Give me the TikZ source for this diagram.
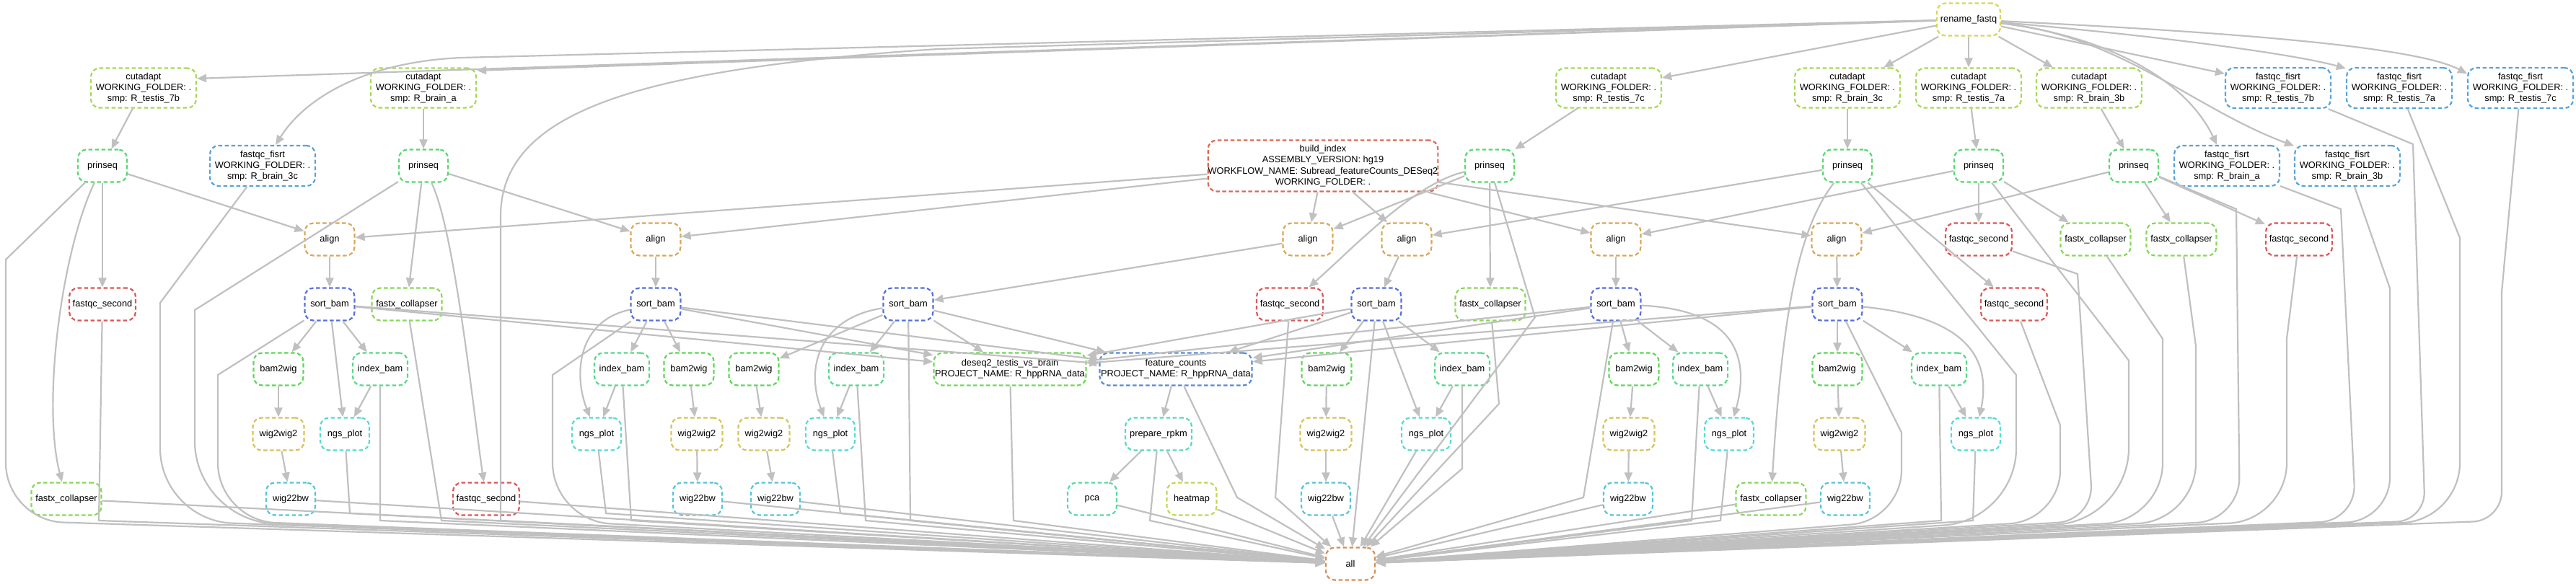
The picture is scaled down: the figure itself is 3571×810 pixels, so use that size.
\documentclass[tikz,border=0pt]{standalone}
\usepackage{fontspec}
\setmainfont{Liberation Sans}
\usetikzlibrary{arrows.meta}
\definecolor{cRen}{HTML}{D9D657}
\definecolor{cCut}{HTML}{A6D957}
\definecolor{cFq}{HTML}{57A3D9}
\definecolor{cPs}{HTML}{57D970}
\definecolor{cBi}{HTML}{D96A57}
\definecolor{cAl}{HTML}{D9A857}
\definecolor{cFs}{HTML}{D95757}
\definecolor{cFx}{HTML}{86D957}
\definecolor{cSo}{HTML}{5770D9}
\definecolor{cBw}{HTML}{5CD957}
\definecolor{cIb}{HTML}{57D98A}
\definecolor{cWw}{HTML}{D9C257}
\definecolor{cNp}{HTML}{57D9D9}
\definecolor{cWb}{HTML}{57C4D9}
\definecolor{cDe}{HTML}{6FD957}
\definecolor{cFc}{HTML}{578AD9}
\definecolor{cPr}{HTML}{57D9BD}
\definecolor{cPca}{HTML}{57D9A3}
\definecolor{cHm}{HTML}{BDD957}
\definecolor{cAll}{HTML}{D98F57}
\definecolor{cEdge}{HTML}{C0C0C0}
\newcommand\edg[2]{\draw[edge] (#1) -- (#2);}
\newcommand\allA[3]{\draw[edge] (#1) -- (#2) [rounded corners=#3pt] -- (all);}
\newcommand\allB[5]{\draw[edge] (#1) -- (#2) [rounded corners=#3pt] -- (#4) [rounded corners=#5pt] -- (all);}
\begin{document}
\begin{tikzpicture}[x=1pt,y=-1pt,
  nd/.style={draw=#1, line width=2.2pt, dash pattern=on 5.5pt off 3.5pt, rounded corners=12pt, minimum height=45pt, inner sep=0pt, align=center, font=\fontsize{12.8}{15.3}\selectfont},
  renS/.style={nd=cRen, minimum width=88pt},
  cutS/.style={nd=cCut, minimum width=146pt, minimum height=55pt},
  fqS/.style={nd=cFq, minimum width=146pt, minimum height=56pt},
  psS/.style={nd=cPs, minimum width=68pt},
  biS/.style={nd=cBi, minimum width=309pt, minimum height=71pt},
  alS/.style={nd=cAl, minimum width=69pt},
  fsS/.style={nd=cFs, minimum width=92pt},
  fxS/.style={nd=cFx, minimum width=97pt},
  soS/.style={nd=cSo, minimum width=69pt},
  bwS/.style={nd=cBw, minimum width=69pt},
  ibS/.style={nd=cIb, minimum width=76pt},
  wwS/.style={nd=cWw, minimum width=71pt},
  npS/.style={nd=cNp, minimum width=68pt},
  wbS/.style={nd=cWb, minimum width=68pt},
  deS/.style={nd=cDe, minimum width=211pt},
  fcS/.style={nd=cFc, minimum width=211pt},
  prS/.style={nd=cPr, minimum width=92pt},
  pcaS/.style={nd=cPca, minimum width=68pt},
  hmS/.style={nd=cHm, minimum width=69pt},
  allS/.style={nd=cAll, minimum width=68pt},
  edge/.style={draw=cEdge, line width=2.2pt, sharp corners, -{Triangle[length=13pt,width=11pt]}}
]
\useasboundingbox (0,0) rectangle (3571,810);
% ---------- nodes ----------
\node[renS] (ren) at (2729,27) {rename\_fastq};
\node[cutS] (cu7b) at (199,122) {cutadapt\\WORKING\_FOLDER: .\\smp: R\_testis\_7b};
\node[cutS] (cuba) at (587,122) {cutadapt\\WORKING\_FOLDER: .\\smp: R\_brain\_a};
\node[cutS] (cu7c) at (2230,122) {cutadapt\\WORKING\_FOLDER: .\\smp: R\_testis\_7c};
\node[cutS] (cu3c) at (2561,122) {cutadapt\\WORKING\_FOLDER: .\\smp: R\_brain\_3c};
\node[cutS] (cu7a) at (2729,122) {cutadapt\\WORKING\_FOLDER: .\\smp: R\_testis\_7a};
\node[cutS] (cu3b) at (2896,122) {cutadapt\\WORKING\_FOLDER: .\\smp: R\_brain\_3b};
\node[fqS] (fq7b) at (3158,122) {fastqc\_fisrt\\WORKING\_FOLDER: .\\smp: R\_testis\_7b};
\node[fqS] (fq7a) at (3326,122) {fastqc\_fisrt\\WORKING\_FOLDER: .\\smp: R\_testis\_7a};
\node[fqS] (fq7c) at (3494,122) {fastqc\_fisrt\\WORKING\_FOLDER: .\\smp: R\_testis\_7c};
\node[psS] (ps7b) at (142,230) {prinseq};
\node[fqS] (fq3c) at (364,230) {fastqc\_fisrt\\WORKING\_FOLDER: .\\smp: R\_brain\_3c};
\node[psS] (psba) at (587,230) {prinseq};
\node[biS] (bi) at (1834,230) {build\_index\\ASSEMBLY\_VERSION: hg19\\WORKFLOW\_NAME: Subread\_featureCounts\_DESeq2\\WORKING\_FOLDER: .};
\node[psS] (ps7c) at (2065,230) {prinseq};
\node[psS] (ps3c) at (2561,230) {prinseq};
\node[psS] (ps7a) at (2743,230) {prinseq};
\node[psS] (ps3b) at (2958,230) {prinseq};
\node[fqS] (fqba) at (3087,230) {fastqc\_fisrt\\WORKING\_FOLDER: .\\smp: R\_brain\_a};
\node[fqS] (fq3b) at (3254,230) {fastqc\_fisrt\\WORKING\_FOLDER: .\\smp: R\_brain\_3b};
% row 332
\node[alS] (al7b) at (457,332) {align};
\node[alS] (alba) at (909,332) {align};
\node[alS] (al7c) at (1813,332) {align};
\node[alS] (al3c) at (1950,332) {align};
\node[alS] (al7a) at (2240,332) {align};
\node[alS] (al3b) at (2546,332) {align};
\node[fsS] (fs7a) at (2743,332) {fastqc\_second};
\node[fxS] (fx7a) at (2905,332) {fastx\_collapser};
\node[fxS] (fx3b) at (3024,332) {fastx\_collapser};
\node[fsS] (fs3b) at (3187,332) {fastqc\_second};
% row 422
\node[fsS] (fs7b) at (142,422) {fastqc\_second};
\node[soS] (so7b) at (457,422) {sort\_bam};
\node[fxS] (fxba) at (564,422) {fastx\_collapser};
\node[soS] (soba) at (909,422) {sort\_bam};
\node[soS] (so7c) at (1259,422) {sort\_bam};
\node[fsS] (fs7c) at (1788,422) {fastqc\_second};
\node[soS] (so3c) at (1908,422) {sort\_bam};
\node[fxS] (fx7c) at (2066,422) {fastx\_collapser};
\node[soS] (so7a) at (2240,422) {sort\_bam};
\node[soS] (so3b) at (2547,422) {sort\_bam};
\node[fsS] (fs3c) at (2792,422) {fastqc\_second};
% row 512
\node[bwS] (bw7b) at (386,512) {bam2wig};
\node[ibS] (ib7b) at (527,512) {index\_bam};
\node[ibS] (ibba) at (862,512) {index\_bam};
\node[bwS] (bwba) at (955,512) {bam2wig};
\node[bwS] (bw7c) at (1045,512) {bam2wig};
\node[ibS] (ib7c) at (1187,512) {index\_bam};
\node[deS] (de) at (1400,512) {deseq2\_testis\_vs\_brain\\PROJECT\_NAME: R\_hppRNA\_data};
\node[fcS] (fc) at (1630,512) {feature\_counts\\PROJECT\_NAME: R\_hppRNA\_data};
\node[bwS] (bw3c) at (1839,512) {bam2wig};
\node[ibS] (ib3c) at (2027,512) {index\_bam};
\node[bwS] (bw7a) at (2265,512) {bam2wig};
\node[ibS] (ib7a) at (2357,512) {index\_bam};
\node[bwS] (bw3b) at (2547,512) {bam2wig};
\node[ibS] (ib3b) at (2688,512) {index\_bam};
% row 602
\node[wwS] (ww7b) at (386,602) {wig2wig2};
\node[npS] (np7b) at (478,602) {ngs\_plot};
\node[npS] (npba) at (827,602) {ngs\_plot};
\node[wwS] (wwba) at (966,602) {wig2wig2};
\node[wwS] (ww7c) at (1059,602) {wig2wig2};
\node[npS] (np7c) at (1151,602) {ngs\_plot};
\node[prS] (pr) at (1606,602) {prepare\_rpkm};
\node[wwS] (ww3c) at (1838,602) {wig2wig2};
\node[npS] (np3c) at (1977,602) {ngs\_plot};
\node[wwS] (ww7a) at (2258,602) {wig2wig2};
\node[npS] (np7a) at (2397,602) {ngs\_plot};
\node[wwS] (ww3b) at (2550,602) {wig2wig2};
\node[npS] (np3b) at (2739,602) {ngs\_plot};
% row 692
\node[fxS] (fx7b) at (92,692) {fastx\_collapser};
\node[wbS] (wb7b) at (403,692) {wig22bw};
\node[fsS] (fsba) at (674,692) {fastqc\_second};
\node[wbS] (wbba) at (967,692) {wig22bw};
\node[wbS] (wb7c) at (1075,692) {wig22bw};
\node[pcaS] (pca) at (1514,692) {pca};
\node[hmS] (hm) at (1652,692) {heatmap};
\node[wbS] (wb3c) at (1838,692) {wig22bw};
\node[wbS] (wb7a) at (2257,692) {wig22bw};
\node[fxS] (fx3c) at (2455,692) {fastx\_collapser};
\node[wbS] (wb3b) at (2558,692) {wig22bw};
% row 782
\node[allS] (all) at (1872,782) {all};
% ---------- edges from rename_fastq ----------
\draw[edge] (ren) -- (cu7b.10);
\draw[edge] (ren) -- (cuba.18);
\draw[edge] (ren) -- (640,80) .. controls (500,86) and (420,140) .. (fq3c);
\draw[edge] (ren) -- (1300,68) .. controls (900,95) and (694,150) .. (694,300) -- (694,722) [rounded corners=80pt] -- (all);
\edg{ren}{cu7c}
\edg{ren}{cu3c}
\edg{ren}{cu7a}
\edg{ren}{cu3b}
\draw[edge] (ren) -- (fq7b.165);
\draw[edge] (ren) .. controls (3050,55) and (3200,80) .. (fq7a.160);
\draw[edge] (ren) .. controls (3100,45) and (3350,65) .. (fq7c.165);
\draw[edge] (ren) .. controls (2920,50) and (3030,110) .. (fqba);
\draw[edge] (ren) .. controls (2940,50) and (3040,150) .. (fq3b);
% ---------- cutadapt -> prinseq ----------
\edg{cu7b}{ps7b}
\edg{cuba}{psba}
\edg{cu7c}{ps7c}
\edg{cu3c}{ps3c}
\edg{cu7a}{ps7a}
\edg{cu3b}{ps3b}
% ---------- build_index -> align ----------
\foreach \a in {al7b,alba,al7c,al3c,al7a,al3b} {\draw[edge] (bi) -- (\a);}
% ---------- prinseq ----------
\edg{ps7b}{al7b}
\edg{ps7b}{fs7b}
\draw[edge] (ps7b) .. controls (85,350) and (58,560) .. (fx7b);
\edg{psba}{alba}
\edg{psba}{fxba}
\draw[edge] (psba) .. controls (630,320) and (655,560) .. (fsba);
\edg{ps7c}{al7c}
\edg{ps7c}{fx7c}
\draw[edge] (ps7c) .. controls (1960,255) and (1880,340) .. (fs7c);
\edg{ps3c}{al3c}
\edg{ps3c}{fs3c}
\draw[edge] (ps3c) .. controls (2490,320) and (2470,450) .. (fx3c);
\edg{ps7a}{al7a}
\edg{ps7a}{fs7a}
\edg{ps7a}{fx7a}
\edg{ps3b}{al3b}
\edg{ps3b}{fx3b}
\edg{ps3b}{fs3b}
% ---------- align -> sort_bam ----------
\edg{al7b}{so7b}
\edg{alba}{soba}
\edg{al7c}{so7c}
\edg{al3c}{so3c}
\edg{al7a}{so7a}
\edg{al3b}{so3b}
% ---------- sort_bam ----------
\edg{so7b}{bw7b} \edg{so7b}{ib7b} \edg{so7b}{np7b}
\edg{soba}{ibba} \edg{soba}{bwba}
\draw[edge] (soba) .. controls (800,445) and (795,520) .. (npba);
\edg{so7c}{bw7c} \edg{so7c}{ib7c}
\draw[edge] (so7c) .. controls (1140,440) and (1115,505) .. (np7c);
\edg{so3c}{bw3c} \edg{so3c}{ib3c} \edg{so3c}{np3c}
\edg{so7a}{bw7a} \edg{so7a}{ib7a}
\draw[edge] (so7a) .. controls (2410,430) and (2425,500) .. (np7a);
\edg{so3b}{bw3b} \edg{so3b}{ib3b}
\draw[edge] (so3b) .. controls (2730,440) and (2760,500) .. (np3b);
\foreach \s in {so7b,soba,so7c,so3c,so7a,so3b} {\draw[edge] (\s) -- (de); \draw[edge] (\s) -- (fc);}
% ---------- chains ----------
\edg{bw7b}{ww7b} \edg{ww7b}{wb7b}
\edg{bwba}{wwba} \edg{wwba}{wbba}
\edg{bw7c}{ww7c} \edg{ww7c}{wb7c}
\edg{bw3c}{ww3c} \edg{ww3c}{wb3c}
\edg{bw7a}{ww7a} \edg{ww7a}{wb7a}
\edg{bw3b}{ww3b} \edg{ww3b}{wb3b}
\edg{ib7b}{np7b} \edg{ibba}{npba} \edg{ib7c}{np7c}
\edg{ib3c}{np3c} \edg{ib7a}{np7a} \edg{ib3b}{np3b}
\edg{fc}{pr} \edg{pr}{pca} \edg{pr}{hm}
% ---------- edges into all ----------
\allB{ps7b}{8,360}{80}{8,722}{80}
\allA{fs7b}{137,722}{80}
\edg{fx7b}{all}
\allB{fq3c}{222,420}{100}{222,722}{80}
\allB{psba}{270,430}{110}{270,722}{80}
\allB{so7b}{302,520}{80}{302,722}{80}
\edg{wb7b}{all}
\allA{np7b}{485,712}{60}
\allA{ib7b}{527,722}{70}
\edg{fsba}{all}
\allA{fxba}{612,722}{70}
\allB{soba}{766,520}{80}{766,722}{80}
\allA{npba}{840,712}{60}
\allA{ibba}{875,722}{70}
\edg{wbba}{all}
\edg{wb7c}{all}
\allA{np7c}{1165,712}{60}
\allA{ib7c}{1200,722}{80}
\allA{so7c}{1262,722}{100}
\allA{de}{1405,722}{80}
\edg{pca}{all}
\allA{pr}{1594,722}{60}
\edg{hm}{all}
\allA{fc}{1715,690}{80}
\allA{fs7c}{1768,690}{70}
\edg{wb3c}{all}
\edg{so3c}{all}
\edg{np3c}{all}
\allA{ib3c}{2027,650}{80}
\allA{fx7c}{2078,560}{100}
\allA{ps7c}{2128,440}{100}
\allA{so7a}{2195,690}{100}
\edg{wb7a}{all}
\allA{ib7a}{2345,722}{80}
\allA{np7a}{2385,722}{70}
\edg{fx3c}{all}
\edg{wb3b}{all}
\allB{so3b}{2636,600}{70}{2636,722}{70}
\allA{ib3b}{2691,722}{80}
\allA{np3b}{2735,722}{70}
\allB{ps3c}{2795,520}{100}{2795,722}{90}
\allB{fs3c}{2856,590}{70}{2856,722}{70}
\allB{fs7a}{2880,380}{50}{2902,722}{90}
\allB{ps7a}{2951,500}{100}{2951,722}{90}
\allB{fx7a}{2998,470}{80}{2998,722}{90}
\allB{ps3b}{3100,290}{60}{3105,722}{100}
\allB{fx3b}{3044,480}{80}{3044,722}{90}
\allB{fs3b}{3170,470}{80}{3170,722}{100}
\allB{fqba}{3245,290}{50}{3266,722}{100}
\allB{fq3b}{3313,400}{60}{3313,722}{100}
\allB{fq7b}{3345,200}{40}{3362,722}{100}
\allB{fq7a}{3410,330}{80}{3410,722}{110}
\allB{fq7c}{3468,405}{40}{3468,722}{110}
\end{tikzpicture}
\end{document}
